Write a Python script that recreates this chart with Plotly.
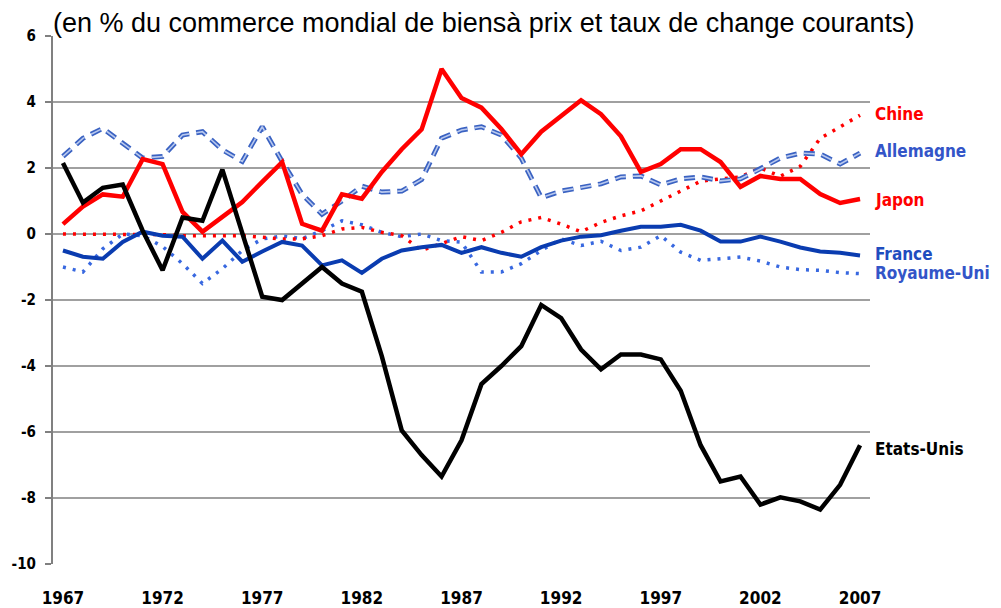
import plotly.graph_objects as go

years = list(range(1967, 2008))

etats_unis = [2.15, 0.95, 1.4, 1.5, 0.1, -1.1, 0.5, 0.4, 1.95, 0.0,
              -1.9, -2.0, -1.5, -1.0, -1.5, -1.75, -3.7, -5.95, -6.7, -7.35,
              -6.25, -4.55, -4.0, -3.4, -2.15, -2.55, -3.5, -4.1, -3.65, -3.65,
              -3.8, -4.75, -6.4, -7.5, -7.35, -8.2, -7.98, -8.1, -8.35, -7.6, -6.4]

japon = [0.3, 0.83, 1.2, 1.13, 2.27, 2.12, 0.67, 0.07, 0.52, 0.97,
         1.58, 2.18, 0.31, 0.1, 1.2, 1.07, 1.88, 2.57, 3.17, 5.0,
         4.12, 3.83, 3.18, 2.42, 3.1, 3.56, 4.05, 3.63, 2.96, 1.88,
         2.12, 2.57, 2.57, 2.18, 1.43, 1.76, 1.67, 1.67, 1.21, 0.94, 1.06]

chine = [0.0, 0.0, 0.0, 0.0, 0.0, -0.02, -0.05, -0.05, -0.05, -0.05,
         -0.1, -0.15, -0.15, -0.05, 0.15, 0.2, 0.05, -0.05, -0.5, -0.3,
         -0.08, -0.2, 0.05, 0.37, 0.5, 0.3, 0.07, 0.35, 0.55, 0.7,
         1.0, 1.3, 1.6, 1.67, 1.73, 2.0, 1.75, 2.05, 2.9, 3.25, 3.6]

allemagne = [2.35, 2.9, 3.2, 2.75, 2.3, 2.35, 3.0, 3.1, 2.55, 2.2,
             3.25, 2.2, 1.2, 0.6, 1.0, 1.45, 1.27, 1.3, 1.65, 2.9,
             3.15, 3.25, 3.0, 2.3, 1.1, 1.3, 1.42, 1.52, 1.73, 1.76,
             1.49, 1.67, 1.73, 1.61, 1.67, 1.97, 2.3, 2.45, 2.42, 2.12, 2.45]

france = [-0.5, -0.69, -0.75, -0.24, 0.07, -0.05, -0.08, -0.75, -0.2, -0.84,
          -0.53, -0.24, -0.35, -0.95, -0.8, -1.18, -0.75, -0.5, -0.4, -0.33,
          -0.57, -0.4, -0.57, -0.69, -0.4, -0.2, -0.08, -0.04, 0.1, 0.22,
          0.22, 0.28, 0.1, -0.23, -0.23, -0.08, -0.23, -0.41, -0.53, -0.57, -0.65]

royaume_uni = [-1.0, -1.15, -0.45, 0.0, -0.05, -0.38, -0.9, -1.5, -1.05, -0.5,
               -0.15, -0.06, -0.14, 0.1, 0.4, 0.28, 0.05, -0.08, 0.0, -0.2,
               -0.25, -1.15, -1.15, -0.9, -0.5, -0.15, -0.35, -0.22, -0.5, -0.4,
               -0.05, -0.55, -0.8, -0.75, -0.7, -0.82, -1.0, -1.08, -1.1, -1.17, -1.2]

tick_years = [1967, 1972, 1977, 1982, 1987, 1992, 1997, 2002, 2007]
y_ticks = [6, 4, 2, 0, -2, -4, -6, -8, -10]

title_text = "(en % du commerce mondial de biensà prix et taux de change courants)"

labels = [
    ("Chine", 3.63, "#FF0000"),
    ("Allemagne", 2.51, "#3355C8"),
    ("Japon", 1.03, "#FF0000"),
    ("France", -0.6, "#1F4DBF"),
    ("Royaume-Uni", -1.17, "#3355C8"),
    ("Etats-Unis", -6.5, "#000000"),
]

NARROW = "Liberation Sans Narrow, DejaVu Sans Condensed, sans-serif"

fig = go.Figure()


def add_line(y, color, width, dash, name):
    fig.add_trace(go.Scatter(
        x=years, y=y, mode="lines", name=name,
        line=dict(color=color, width=width, dash=dash),
        hoverinfo="x+y+name", showlegend=False,
    ))


add_line(royaume_uni, "#3868E0", 3.5, "3px,7px", "Royaume-Uni")
add_line(chine, "#FF0000", 3.5, "3px,7px", "Chine")
add_line(allemagne, "#3A62C2", 5, "11px,7px", "Allemagne")
add_line(allemagne, "#B8C8EE", 1.6, "11px,7px", "Allemagne ")
add_line(france, "#0A3CB0", 4, "solid", "France")
add_line(japon, "#FF0000", 4.5, "solid", "Japon")
add_line(etats_unis, "#000000", 4.5, "solid", "Etats-Unis")

for text, yv, col in labels:
    fig.add_annotation(
        x=1, xref="paper", y=yv, yref="y", text="<b>%s</b>" % text,
        showarrow=False, xanchor="left", yanchor="middle", xshift=3,
        font=dict(family=NARROW, size=17, color=col),
    )

fig.add_annotation(
    x=0, xref="paper", y=1, yref="paper", text=title_text,
    showarrow=False, xanchor="left", yanchor="bottom", xshift=-1, yshift=-3,
    borderpad=0,
    font=dict(family="Liberation Sans, Arial, sans-serif", size=27, color="#000000"),
)

# page body adds an 8px offset; margins compensate so the plot sits where the reference has it
fig.update_layout(
    width=1001, height=608, autosize=False,
    margin=dict(l=45, r=139, t=28, b=52),
    paper_bgcolor="white", plot_bgcolor="white",
    showlegend=False,
    xaxis=dict(
        range=[1966.5, 2007.5], automargin=False,
        tickvals=tick_years, ticktext=[str(v) for v in tick_years],
        showgrid=False, zeroline=False, showline=False, ticks="",
        tickfont=dict(family=NARROW, size=17, color="#000000", weight="bold"),
        ticklabelstandoff=22,
    ),
    yaxis=dict(
        range=[-10, 6], automargin=False,
        tickvals=y_ticks, ticktext=[str(v) for v in y_ticks],
        showgrid=True, gridcolor="#A0A0A0", gridwidth=2,
        zeroline=False, showline=True, linecolor="#808080", linewidth=2,
        ticks="outside", ticklen=6, tickcolor="#808080", tickwidth=2,
        tickfont=dict(family=NARROW, size=15, color="#000000", weight="bold"),
        ticklabelstandoff=6,
    ),
)

fig.write_html("out.html")
